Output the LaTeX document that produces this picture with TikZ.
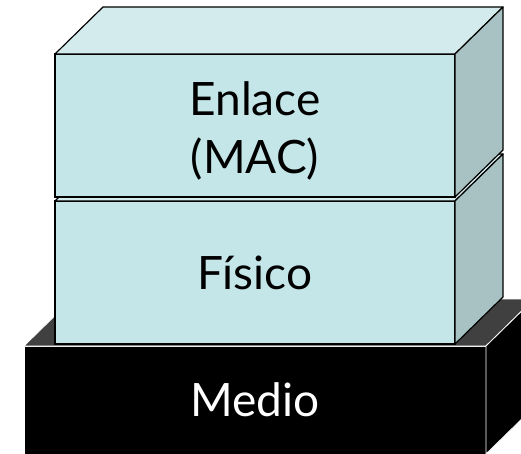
\documentclass[tikz,border=0pt]{standalone}
\usepackage{fontspec}
\setsansfont{Lato}
\usetikzlibrary{positioning,calc}

\definecolor{capafront}{RGB}{196,230,232}
\definecolor{capatop}{RGB}{211,235,237}
\definecolor{capaside}{RGB}{168,194,196}
\definecolor{mediotop}{RGB}{64,64,64}

\begin{document}
\begin{tikzpicture}[x=1pt,y=-1pt,
  capa/.style={rectangle,draw=black,line width=1.2pt,fill=capafront,
    minimum width=400pt,minimum height=143pt,inner sep=0pt,outer sep=0pt,
    align=center,font=\sffamily\fontsize{46}{58}\selectfont},
  medio/.style={rectangle,draw=white,line width=0.8pt,fill=black,text=white,
    minimum width=462pt,minimum height=108pt,inner sep=0pt,outer sep=0pt,
    font=\sffamily\fontsize{46}{58}\selectfont},
  topface/.style={draw=black,line width=1.2pt,fill=capatop,line join=round},
  sideface/.style={draw=black,line width=1.2pt,fill=capaside,line join=round}]
\useasboundingbox (0,0) rectangle (521,454);
\clip (0,0) rectangle (521,454);
% medio
\node[medio] (medio) at (255,400) {Medio};
\fill[mediotop,draw=white,line width=0.8pt] (medio.north west) -- ++(48,-47) -- ($(medio.north east)+(48,-47)$) -- (medio.north east) -- cycle;
\fill[black,draw=white,line width=0.8pt] (medio.north east) -- ++(48,-47) -- ($(medio.south east)+(48,-47)$) -- (medio.south east) -- cycle;
% fisico
\node[capa,above=2pt of medio] (fisico) {Físico};
\draw[topface] (fisico.north west) -- ++(48,-47) -- ($(fisico.north east)+(48,-47)$) -- (fisico.north east) -- cycle;
\draw[sideface] (fisico.north east) -- ++(48,-47) -- ($(fisico.south east)+(48,-47)$) -- (fisico.south east) -- cycle;
% enlace
\node[capa,above=4pt of fisico,text height=102pt] (enlace) {Enlace\\(MAC)};
\draw[topface] (enlace.north west) -- ++(48,-47) -- ($(enlace.north east)+(48,-47)$) -- (enlace.north east) -- cycle;
\draw[sideface] (enlace.north east) -- ++(48,-47) -- ($(enlace.south east)+(48,-47)$) -- (enlace.south east) -- cycle;
\end{tikzpicture}
\end{document}
